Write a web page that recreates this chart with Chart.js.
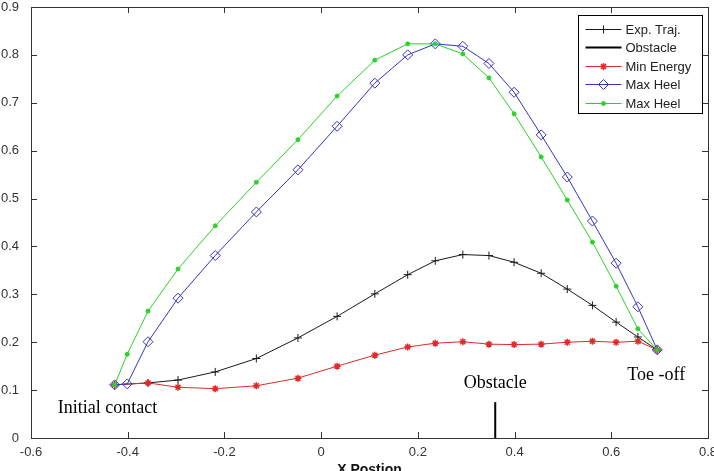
<!DOCTYPE html>
<html>
<head>
<meta charset="utf-8">
<script src="https://cdn.jsdelivr.net/npm/chart.js@4/dist/chart.umd.min.js"></script>
<style>
  html, body { margin: 0; padding: 0; background: #fff; }
  canvas { display: block; }
</style>
</head>
<body>
<canvas id="trajChart" width="714" height="471"></canvas>
<script>
// x positions of the heel curves (20 samples) and of the trajectory curves (19 samples)
const xHeel = [-0.427, -0.401, -0.358, -0.296, -0.219, -0.134, -0.048, 0.033, 0.111, 0.179,
  0.236, 0.293, 0.347, 0.399, 0.455, 0.509, 0.561, 0.610, 0.655, 0.695];
const xTraj = [-0.427, -0.358, -0.296, -0.219, -0.134, -0.048, 0.033, 0.111, 0.179,
  0.236, 0.293, 0.347, 0.399, 0.455, 0.509, 0.561, 0.610, 0.655, 0.695];

const expTraj = [0.111, 0.115, 0.121, 0.138, 0.166, 0.209, 0.254, 0.301, 0.341, 0.370,
  0.383, 0.381, 0.367, 0.344, 0.311, 0.277, 0.242, 0.211, 0.184];
const minEnergy = [0.111, 0.115, 0.106, 0.103, 0.109, 0.125, 0.150, 0.173, 0.190, 0.198,
  0.201, 0.196, 0.195, 0.196, 0.200, 0.202, 0.200, 0.202, 0.184];
const maxHeelBlue = [0.111, 0.113, 0.201, 0.292, 0.381, 0.472, 0.560, 0.651, 0.741, 0.800,
  0.823, 0.818, 0.782, 0.722, 0.633, 0.545, 0.453, 0.365, 0.274, 0.184];
const maxHeelGreen = [0.111, 0.175, 0.265, 0.353, 0.443, 0.534, 0.623, 0.714, 0.789, 0.823,
  0.823, 0.802, 0.752, 0.677, 0.587, 0.497, 0.409, 0.317, 0.228, 0.184];

const obstacleX = [0.36, 0.36];
const obstacleY = [0, 0.075];

const xTicks = [-0.6, -0.4, -0.2, 0, 0.2, 0.4, 0.6, 0.8];
const yTicks = [0, 0.1, 0.2, 0.3, 0.4, 0.5, 0.6, 0.7, 0.8, 0.9];

const notes = [
  { text: 'Initial contact', x: -0.442, y: 0.063 },
  { text: 'Obstacle', x: 0.36, y: 0.115 },
  { text: 'Toe -off', x: 0.693, y: 0.132 }
];

const pts = (xs, ys) => xs.map((x, i) => ({ x, y: ys[i] }));

const BLACK = '#1a1a1a';
const RED = '#e02a2a';
const BLUE = '#3434c4';
const GREEN = '#2ad22a';

// frame with inward ticks on all four sides, like the matlab box
const framePlugin = {
  id: 'frame',
  afterDraw(chart) {
    const { ctx, chartArea: a, scales } = chart;
    ctx.save();
    ctx.strokeStyle = '#333';
    ctx.lineWidth = 1;
    ctx.strokeRect(Math.round(a.left) + 0.5, Math.round(a.top) + 0.5,
      Math.round(a.right - a.left), Math.round(a.bottom - a.top));
    ctx.beginPath();
    scales.x.ticks.forEach((t) => {
      const px = Math.round(scales.x.getPixelForValue(t.value)) + 0.5;
      ctx.moveTo(px, a.bottom); ctx.lineTo(px, a.bottom - 6);
      ctx.moveTo(px, a.top); ctx.lineTo(px, a.top + 6);
    });
    scales.y.ticks.forEach((t) => {
      const py = Math.round(scales.y.getPixelForValue(t.value)) + 0.5;
      ctx.moveTo(a.left, py); ctx.lineTo(a.left + 6, py);
      ctx.moveTo(a.right, py); ctx.lineTo(a.right - 6, py);
    });
    ctx.stroke();

    // text notes
    ctx.fillStyle = '#000';
    ctx.font = "18px 'Liberation Serif', 'Times New Roman', serif";
    ctx.textAlign = 'center';
    ctx.textBaseline = 'middle';
    notes.forEach((n) => {
      ctx.fillText(n.text, scales.x.getPixelForValue(n.x), scales.y.getPixelForValue(n.y));
    });

    // boxed legend
    const boxW = 124, boxH = 98;
    const bx = Math.round(a.right - 6 - boxW) + 0.5;
    const by = Math.round(a.top + 8) + 0.5;
    ctx.fillStyle = '#fff';
    ctx.fillRect(bx, by, boxW, boxH);
    ctx.strokeStyle = '#000';
    ctx.lineWidth = 1;
    ctx.strokeRect(bx, by, boxW, boxH);
    ctx.font = "13px 'Liberation Sans', Arial, sans-serif";
    ctx.textAlign = 'left';
    chart.data.datasets.forEach((ds, i) => {
      const ly = Math.round(by + 13 + i * 18.5) + 0.5;
      ctx.strokeStyle = ds.borderColor;
      ctx.lineWidth = ds.borderWidth;
      ctx.beginPath();
      ctx.moveTo(bx + 7, ly);
      ctx.lineTo(bx + 43, ly);
      ctx.stroke();
      if (ds.pointRadius > 0) {
        ctx.fillStyle = ds.pointBackgroundColor;
        ctx.strokeStyle = ds.borderColor;
        ctx.lineWidth = ds.pointBorderWidth;
        Chart.helpers.drawPoint(ctx, {
          pointStyle: ds.pointStyle, radius: ds.pointRadius, rotation: 0,
          borderWidth: ds.pointBorderWidth
        }, bx + 25, ly);
      }
      ctx.fillStyle = '#222';
      ctx.fillText(ds.label, bx + 47, ly + 1);
    });
    ctx.restore();
  }
};

new Chart(document.getElementById('trajChart'), {
  type: 'scatter',
  data: {
    datasets: [
      {
        label: 'Exp. Traj.',
        data: pts(xTraj, expTraj),
        showLine: true,
        borderColor: BLACK,
        backgroundColor: BLACK,
        pointBackgroundColor: BLACK,
        borderWidth: 1,
        pointStyle: 'cross',
        pointRadius: 4,
        pointBorderWidth: 1,
        order: 4
      },
      {
        label: 'Obstacle',
        data: pts(obstacleX, obstacleY),
        showLine: true,
        borderColor: '#000',
        backgroundColor: '#000',
        pointBackgroundColor: '#000',
        borderWidth: 2,
        pointRadius: 0,
        pointBorderWidth: 0,
        order: 3
      },
      {
        label: 'Min Energy',
        data: pts(xTraj, minEnergy),
        showLine: true,
        borderColor: RED,
        backgroundColor: RED,
        pointBackgroundColor: RED,
        borderWidth: 1,
        pointStyle: 'star',
        pointRadius: 3.5,
        pointBorderWidth: 1.5,
        order: 2
      },
      {
        label: 'Max Heel',
        data: pts(xHeel, maxHeelBlue),
        showLine: true,
        borderColor: BLUE,
        backgroundColor: BLUE,
        pointBackgroundColor: 'rgba(255,255,255,0)',
        borderWidth: 1,
        pointStyle: 'rectRot',
        pointRadius: 5,
        pointBorderWidth: 1,
        order: 1
      },
      {
        label: 'Max Heel',
        data: pts(xHeel, maxHeelGreen),
        showLine: true,
        borderColor: GREEN,
        backgroundColor: GREEN,
        pointBackgroundColor: GREEN,
        borderWidth: 1,
        pointStyle: 'circle',
        pointRadius: 2,
        pointBorderWidth: 1,
        order: 0
      }
    ]
  },
  options: {
    responsive: false,
    animation: false,
    devicePixelRatio: 1,
    layout: { padding: { top: 7, right: 4, left: 0, bottom: -8 } },
    plugins: {
      legend: { display: false },
      tooltip: { enabled: false }
    },
    elements: { line: { tension: 0 } },
    scales: {
      x: {
        type: 'linear',
        min: -0.6,
        max: 0.8,
        afterBuildTicks: (scale) => { scale.ticks = xTicks.map((v) => ({ value: v })); },
        afterFit: (scale) => {
          scale.height = 41;
          scale.paddingLeft = 0;
          scale.paddingRight = 0;
        },
        grid: { display: false },
        border: { display: false },
        ticks: {
          color: '#333',
          padding: -1,
          maxRotation: 0,
          font: { family: "'Liberation Sans', Arial, sans-serif", size: 13 },
          callback: (v) => String(Math.round(v * 10) / 10)
        },
        title: {
          display: true,
          text: 'X Postion',
          color: '#111',
          padding: { top: 0, bottom: 0 },
          font: { family: "'Liberation Sans', Arial, sans-serif", size: 14, weight: 'bold' }
        }
      },
      y: {
        type: 'linear',
        min: 0,
        max: 0.9,
        afterBuildTicks: (scale) => { scale.ticks = yTicks.map((v) => ({ value: v })); },
        afterFit: (scale) => {
          scale.width = 31;
          scale.paddingTop = 0;
          scale.paddingBottom = 0;
        },
        grid: { display: false },
        border: { display: false },
        ticks: {
          color: '#333',
          padding: 4,
          font: { family: "'Liberation Sans', Arial, sans-serif", size: 13 },
          callback: (v) => String(Math.round(v * 10) / 10)
        }
      }
    }
  },
  plugins: [framePlugin]
});
</script>
</body>
</html>
